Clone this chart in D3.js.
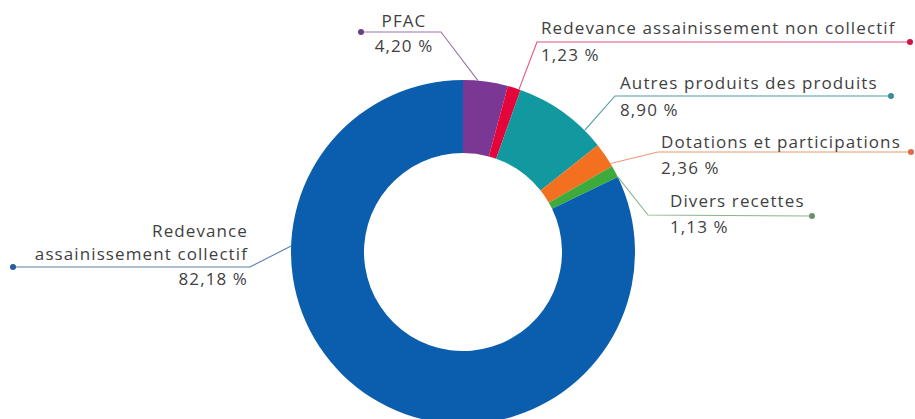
<!DOCTYPE html>
<html lang="fr">
<head>
<meta charset="utf-8">
<script src="https://cdn.jsdelivr.net/npm/d3@7/dist/d3.min.js"></script>
<style>
  html, body { margin: 0; padding: 0; background: #fff; }
  svg { display: block; }
  text { font-family: "Open Sans", "Noto Sans", sans-serif; fill: #3f3f3f; }
</style>
</head>
<body>
<svg id="chart" width="915" height="419"></svg>
<script>
// Répartition des recettes d'assainissement (en %)
const categories = [
  "PFAC",
  "Redevance assainissement non collectif",
  "Autres produits des produits",
  "Dotations et participations",
  "Divers recettes",
  "Redevance assainissement collectif"
];
const values = [4.20, 1.23, 8.90, 2.36, 1.13, 82.18];
const colors = ["#7a3793", "#e5053a", "#12999f", "#f37021", "#3cab3b", "#0b5ead"];
const lineColors = ["#9b72ad", "#e4537a", "#4d9aa3", "#ec9a74", "#8bb58a", "#5b7fae"];
const dotColors = ["#6b3c8a", "#d4123f", "#3b8e99", "#e06a4a", "#6b8f6b", "#245d9d"];

// Placement des étiquettes : texte, coude et point de la ligne de rappel
const labelLayout = [
  { anchor: "middle", x: 404, y: [27, 52],       elbow: [441, 32], dot: [361, 32], angle: 5 },
  { anchor: "start",  x: 541, y: [34, 61],       elbow: [537, 42], dot: [910, 42], angle: 19 },
  { anchor: "start",  x: 620, y: [89, 116],      elbow: [615, 96], dot: [891, 96], angle: 45 },
  { anchor: "start",  x: 661, y: [148, 174],     elbow: [658, 152], dot: [911, 152], angle: 59 },
  { anchor: "start",  x: 670, y: [207, 233],     elbow: [648, 215], dot: [812, 216], angle: 64 },
  { anchor: "end",    x: 248, y: [237, 260, 285], elbow: [250, 267], dot: [13, 267], angle: 272, wrap: true }
];

const cx = 463, cy = 252, rOuter = 172, rInner = 99;

const fr = d3.formatLocale({ decimal: ",", thousands: " ", grouping: [3], currency: ["", " €"] });
const fmt = v => fr.format(".2f")(v) + " %";

const data = categories.map((c, i) => ({ name: c, value: values[i], i }));

const svg = d3.select("#chart");
const g = svg.append("g").attr("transform", `translate(${cx},${cy})`);

const pie = d3.pie().sort(null).value(d => d.value).startAngle(0).endAngle(2 * Math.PI);
const arc = d3.arc().innerRadius(rInner).outerRadius(rOuter);
const arcs = pie(data);

g.selectAll("path.slice")
  .data(arcs)
  .join("path")
  .attr("class", "slice")
  .attr("d", arc)
  .attr("fill", d => colors[d.data.i]);

// Lignes de rappel : du bord extérieur de l'anneau jusqu'au point
const leaders = svg.append("g");
arcs.forEach(a => {
  const L = labelLayout[a.data.i];
  const ang = L.angle * Math.PI / 180;
  const px = cx + rOuter * Math.sin(ang);
  const py = cy - rOuter * Math.cos(ang);
  leaders.append("polyline")
    .attr("points", [[px, py], L.elbow, L.dot].map(p => p.join(",")).join(" "))
    .attr("fill", "none")
    .attr("stroke", lineColors[a.data.i])
    .attr("stroke-width", 1.1);
  leaders.append("circle")
    .attr("cx", L.dot[0]).attr("cy", L.dot[1]).attr("r", 3)
    .attr("fill", dotColors[a.data.i]);
});

// Textes des étiquettes
const labels = svg.append("g");
data.forEach(d => {
  const L = labelLayout[d.i];
  let lines;
  if (L.wrap) {
    const k = d.name.indexOf(" ");
    lines = [d.name.slice(0, k), d.name.slice(k + 1), fmt(d.value)];
  } else {
    lines = [d.name, fmt(d.value)];
  }
  lines.forEach((t, j) => {
    labels.append("text")
      .attr("x", L.x)
      .attr("y", L.y[j])
      .attr("text-anchor", L.anchor)
      .attr("font-size", 17)
      .attr("letter-spacing", 1.1)
      .text(t);
  });
});
</script>
</body>
</html>
